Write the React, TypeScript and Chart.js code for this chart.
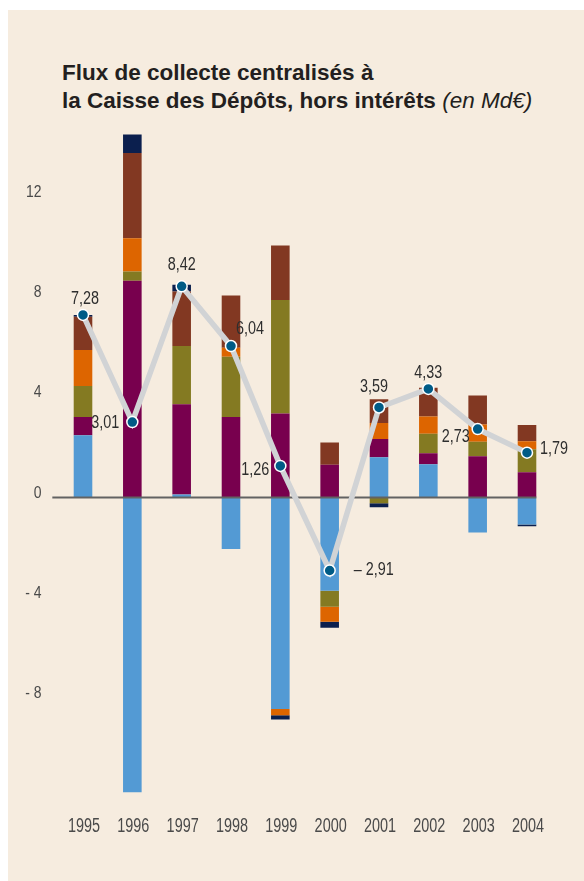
import React, { useEffect, useRef } from 'react';
import { Chart, registerables } from 'chart.js';

Chart.register(...registerables);

// ---- Data (Md€) ----
const years = ['1995', '1996', '1997', '1998', '1999', '2000', '2001', '2002', '2003', '2004'];
const serieBleue = [2.48, -11.75, 0.12, -2.05, -8.43, -3.72, 1.61, 1.33, -1.39, -1.08];
const serieViolette = [0.73, 8.64, 3.6, 3.21, 3.35, 1.31, 0.72, 0.44, 1.65, 1.01];
const serieOlive = [1.24, 0.37, 2.32, 2.4, 4.53, -0.63, -0.23, 0.77, 0.57, 0.91];
const serieOrange = [1.43, 1.33, 0, 0.36, -0.25, -0.6, 0.64, 0.69, 0.69, 0.32];
const serieBrune = [1.33, 3.4, 2.17, 2.08, 2.17, 0.88, 0.95, 1.15, 1.16, 0.65];
const serieMarine = [0.07, 0.73, 0.27, 0, -0.17, -0.24, -0.16, 0, 0, -0.07];
const totalNet = [7.28, 3.01, 8.42, 6.04, 1.26, -2.91, 3.59, 4.33, 2.73, 1.79];
const yTicks = [12, 8, 4, 0, -4, -8];

// label placement relative to each point (style/config, not data)
const labelPlacement: { dx: number; dy: number; align: CanvasTextAlign }[] = [
  { dx: 2, dy: -16, align: 'center' },
  { dx: -13, dy: 1, align: 'right' },
  { dx: 0, dy: -21, align: 'center' },
  { dx: 5, dy: -17, align: 'left' },
  { dx: -11, dy: 4, align: 'right' },
  { dx: 24, dy: 0, align: 'left' },
  { dx: -5, dy: -20, align: 'center' },
  { dx: 0, dy: -16, align: 'center' },
  { dx: -8, dy: 7.5, align: 'right' },
  { dx: 13, dy: -4, align: 'left' },
];

const FONT = '"Liberation Sans", Arial, Helvetica, sans-serif';

const fmtValue = (v: number) => {
  const s = Math.abs(v).toFixed(2).replace('.', ',');
  return v < 0 ? '\u2013 ' + s : s;
};
const fmtTick = (v: number) => (v < 0 ? '- ' + Math.abs(v) : String(v));

function drawCondensed(
  ctx: CanvasRenderingContext2D,
  text: string,
  x: number,
  y: number,
  size: number,
  sx: number,
  align: CanvasTextAlign,
  color: string
) {
  ctx.save();
  ctx.translate(x, y);
  ctx.scale(sx, 1);
  ctx.font = `${size}px ${FONT}`;
  ctx.fillStyle = color;
  ctx.textAlign = align;
  ctx.textBaseline = 'middle';
  ctx.fillText(text, 0, 0);
  ctx.restore();
}

const LINE_INDEX = 6;

const customPlugin = {
  id: 'customDecor',
  beforeDatasetDraw(chart: any, args: any) {
    if (args.index !== LINE_INDEX) return;
    const { ctx, scales, chartArea } = chart;
    const y0 = scales.y.getPixelForValue(0);
    const barMeta = chart.getDatasetMeta(0);
    const last = barMeta.data[barMeta.data.length - 1];
    const right = last.x + last.width / 2;
    ctx.save();
    ctx.strokeStyle = '#626262';
    ctx.lineWidth = 2;
    ctx.beginPath();
    ctx.moveTo(chartArea.left - 6, y0);
    ctx.lineTo(right, y0);
    ctx.stroke();
    ctx.restore();
  },
  afterDraw(chart: any) {
    const { ctx, scales } = chart;
    // y tick labels
    yTicks.forEach((v) => {
      const y = scales.y.getPixelForValue(v) - 4.5;
      drawCondensed(ctx, fmtTick(v), 41.5, y, 17, 0.82, 'right', '#4a4a4a');
    });
    // x labels
    years.forEach((yr, i) => {
      const x = scales.x.getPixelForValue(i);
      drawCondensed(ctx, yr, x + 1, 827, 19.5, 0.74, 'center', '#4a4a4a');
    });
    // data labels
    const meta = chart.getDatasetMeta(LINE_INDEX);
    meta.data.forEach((pt: any, i: number) => {
      const p = labelPlacement[i];
      drawCondensed(ctx, fmtValue(totalNet[i]), pt.x + p.dx, pt.y + p.dy, 18, 0.8, p.align, '#2e2e2e');
    });
  },
};

export default function App() {
  const canvasRef = useRef<HTMLCanvasElement | null>(null);

  useEffect(() => {
    if (!canvasRef.current) return;
    const barCommon = {
      type: 'bar' as const,
      stack: 'flux',
      order: 1,
      barPercentage: 0.377,
      categoryPercentage: 1,
      borderWidth: 0,
    };
    const chart = new Chart(canvasRef.current, {
      type: 'bar',
      data: {
        labels: years,
        datasets: [
          { ...barCommon, label: 'bleu', data: serieBleue, backgroundColor: '#539AD4' },
          { ...barCommon, label: 'violet', data: serieViolette, backgroundColor: '#78004E' },
          { ...barCommon, label: 'olive', data: serieOlive, backgroundColor: '#847A22' },
          { ...barCommon, label: 'orange', data: serieOrange, backgroundColor: '#DD6500' },
          { ...barCommon, label: 'brun', data: serieBrune, backgroundColor: '#823822' },
          { ...barCommon, label: 'marine', data: serieMarine, backgroundColor: '#0B1F4E' },
          {
            type: 'line' as const,
            label: 'total',
            stack: 'ligne',
            order: 0,
            data: totalNet,
            borderColor: '#D1D3D5',
            borderWidth: 5.5,
            pointRadius: 5.5,
            pointBorderWidth: 1.5,
            pointBorderColor: '#FFFFFF',
            pointBackgroundColor: '#005B86',
            tension: 0,
            fill: false,
            clip: false as any,
          } as any,
        ],
      },
      options: {
        responsive: false,
        animation: false,
        layout: {
          autoPadding: false,
          padding: { left: 58.33, right: 32.33, top: 121.3, bottom: 82.5 },
        },
        plugins: {
          legend: { display: false },
          tooltip: { enabled: false },
          title: { display: false },
        },
        scales: {
          x: { display: false, stacked: true, offset: true },
          y: { display: false, stacked: true, min: -12, max: 15 },
        },
      },
      plugins: [customPlugin],
    } as any);
    return () => chart.destroy();
  }, []);

  return (
    <div style={{ position: 'absolute', left: 0, top: 0, width: 584, height: 881, background: '#ffffff', overflow: 'hidden' }}>
      <div style={{ position: 'absolute', left: 8, top: 10, right: 0, bottom: 0, background: '#F6ECDF' }} />
      <div
        style={{
          position: 'absolute',
          left: 62,
          top: 59,
          fontFamily: FONT,
          fontSize: 22.5,
          lineHeight: '28px',
          fontWeight: 'bold',
          color: '#231F20',
          whiteSpace: 'nowrap',
        }}
      >
        <div>Flux de collecte centralisés à</div>
        <div>
          la Caisse des Dépôts, hors intérêts <span style={{ fontWeight: 'normal', fontStyle: 'italic' }}>(en Md€)</span>
        </div>
      </div>
      <canvas
        ref={canvasRef}
        width={584}
        height={881}
        style={{ position: 'absolute', left: 0, top: 0, width: 584, height: 881 }}
      />
    </div>
  );
}
